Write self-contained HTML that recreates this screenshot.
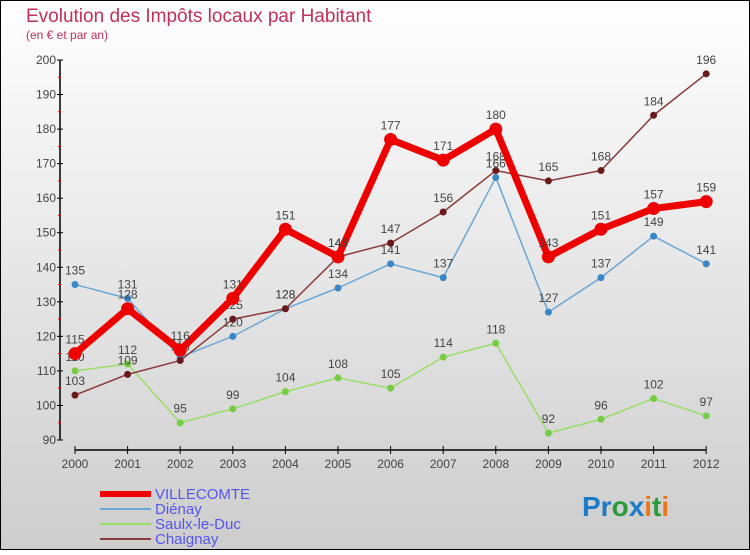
<!DOCTYPE html>
<html><head><meta charset="utf-8"><style>
body{margin:0;width:750px;height:550px;overflow:hidden;font-family:"Liberation Sans",sans-serif}
</style></head><body>
<svg id="c" width="750" height="550" xmlns="http://www.w3.org/2000/svg" font-family="Liberation Sans, sans-serif">
<defs><linearGradient id="bg" x1="0" y1="0" x2="0" y2="1"><stop offset="0" stop-color="#ffffff"/><stop offset="1" stop-color="#cdcdcd"/></linearGradient></defs>
<rect x="0.5" y="0.5" width="749" height="549" fill="url(#bg)" stroke="#000"/>
<text x="26" y="22" font-size="19" fill="#c0305a">Evolution des Impôts locaux par Habitant</text>
<text x="26" y="39" font-size="12" fill="#c0305a">(en € et par an)</text>
<g id="axes"></g><g id="series"></g><g id="legend"></g>
<text x="582" y="516" font-size="28" font-weight="bold"><tspan fill="#1a7cc8">Pr</tspan><tspan fill="#2a9a3a">o</tspan><tspan fill="#1a7cc8">x</tspan><tspan fill="#e8781a">i</tspan><tspan fill="#2a9a3a">t</tspan><tspan fill="#e8781a">i</tspan></text>
</svg>
<script>
const years=[2000,2001,2002,2003,2004,2005,2006,2007,2008,2009,2010,2011,2012];
const yTicks=[90,100,110,120,130,140,150,160,170,180,190,200];
const villecomte=[115,128,116,131,151,143,177,171,180,143,151,157,159];
const dienay=[135,131,114,120,128,134,141,137,166,127,137,149,141];
const saulx=[110,112,95,99,104,108,105,114,118,92,96,102,97];
const chaignay=[103,109,113,125,128,143,147,156,168,165,168,184,196];
const NS="http://www.w3.org/2000/svg";
const X=i=>75+i*52.6;
const Y=v=>440-(v-90)*380/110;
function mk(p,t,a){const e=document.createElementNS(NS,t);for(const k in a)e.setAttribute(k,a[k]);p.appendChild(e);return e;}
const ax=document.getElementById('axes');
let yl=mk(ax,'line',{x1:60,y1:Y(200),x2:60,y2:Y(90),stroke:'#000','stroke-width':1.5});


let xl=mk(ax,'line',{x1:X(0),y1:450,x2:X(12),y2:450,stroke:'#000','stroke-width':1.5});


yTicks.forEach((v,i)=>{
  mk(ax,'line',{x1:57,y1:Y(v),x2:63,y2:Y(v),stroke:'#000'});
  if(i<yTicks.length-1)mk(ax,'line',{x1:58,y1:Y(v+5),x2:61,y2:Y(v+5),stroke:'#e00'});
  const t=mk(ax,'text',{x:56,y:Y(v)+4,'font-size':12,'text-anchor':'end',fill:'#444'});
  t.textContent=v;
  
  
});
years.forEach((y,i)=>{
  mk(ax,'line',{x1:X(i),y1:446,x2:X(i),y2:454,stroke:'#000'});
  const t=mk(ax,'text',{x:X(i),y:468,'font-size':12,'text-anchor':'middle',fill:'#444'});
  t.textContent=y;
  
  
});
const all=[
 {name:'saulx-le-duc',vals:saulx,color:'#99dd66',fill:'#77cc44',w:1.5,r:3.5},
 {name:'dienay',vals:dienay,color:'#6aa6d6',fill:'#3a86c6',w:1.5,r:3.5},
 {name:'chaignay',vals:chaignay,color:'#8a3a3a',fill:'#6a1a1a',w:1.5,r:3.5},
 {name:'villecomte',vals:villecomte,color:'#ee0000',fill:'#ee0000',w:7,r:6.5}
];
const sg=document.getElementById('series');
all.forEach(s=>{
  const g=mk(sg,'g',{});
  
  
  const pl=mk(g,'polyline',{points:s.vals.map((v,i)=>X(i)+','+Y(v)).join(' '),fill:'none',stroke:s.color,'stroke-width':s.w,'stroke-linejoin':'round'});
  
  
  s.vals.forEach((v,i)=>{
    const c=mk(g,'circle',{cx:X(i),cy:Y(v),r:s.r,fill:s.fill});
    
    
    const t=mk(g,'text',{x:X(i),y:Y(v)-10,'font-size':12,'text-anchor':'middle',fill:'#444'});
    t.textContent=v;
    
    
  });
});
const lg=document.getElementById('legend');
const leg=[['VILLECOMTE','#ee0000',6],['Diénay','#6aa6d6',2],['Saulx-le-Duc','#99dd66',2],['Chaignay','#8a3a3a',2]];
leg.forEach((l,i)=>{
  const y=494+i*15;
  const g=mk(lg,'g',{});
  
  
  mk(g,'line',{x1:100,y1:y,x2:151,y2:y,stroke:l[1],'stroke-width':l[2]});
  const t=mk(g,'text',{x:155,y:y+5,'font-size':15,fill:'#5555ee'});
  t.textContent=l[0];
});
</script>
</body></html>
